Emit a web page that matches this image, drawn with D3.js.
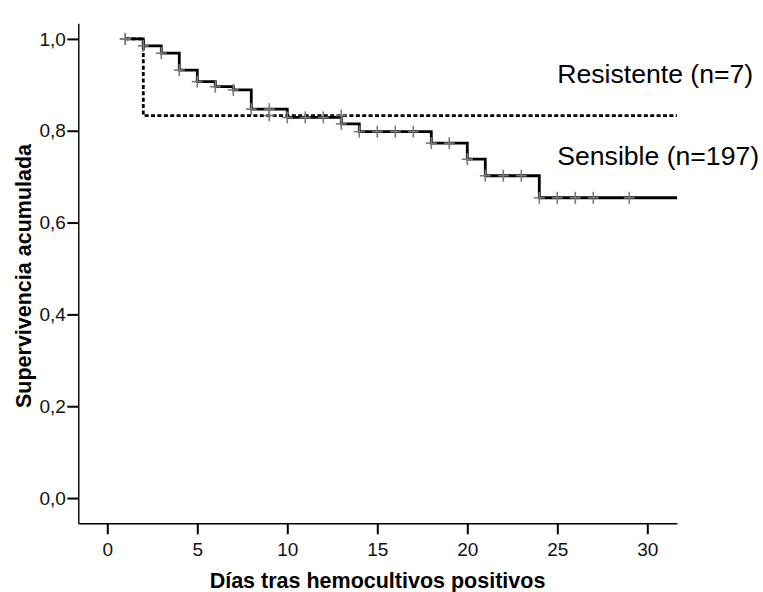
<!DOCTYPE html>
<html>
<head>
<meta charset="utf-8">
<script src="https://cdn.jsdelivr.net/npm/d3@7"></script>
<style>
  html, body { margin: 0; padding: 0; background: #fff; }
  svg { display: block; font-family: Arial, "Liberation Sans", sans-serif; }
</style>
</head>
<body>
<svg id="chart" width="763" height="592"></svg>
<script>
// Kaplan-Meier survival after positive blood cultures, by susceptibility group
const sensibleTimes = [1, 2, 3, 4, 5, 6, 7, 8, 10, 13, 14, 18, 20, 21, 24];
const sensibleSurv = [1.000, 0.985, 0.969, 0.932, 0.907, 0.896, 0.889, 0.847, 0.829, 0.815, 0.798, 0.773, 0.738, 0.702, 0.654];
const sensibleCensored = [1, 2, 3, 4, 5, 6, 7, 8, 9, 10, 11, 12, 13, 14, 15, 16, 17, 18, 19, 20, 21, 22, 23, 24, 25, 26, 27, 29];

const resistenteTimes = [1, 2];
const resistenteSurv = [1.000, 0.833];
const resistenteCensored = [1, 9, 13];

const xTicks = [0, 5, 10, 15, 20, 25, 30];
const yTicks = [0, 0.2, 0.4, 0.6, 0.8, 1.0];

const groupLabels = ["Resistente (n=7)", "Sensible (n=197)"];
const xTitle = "Días tras hemocultivos positivos";
const yTitle = "Supervivencia acumulada";

const svg = d3.select("#chart");

const x = d3.scaleLinear().domain([-1.61, 31.65]).range([78.3, 677]);
const y = d3.scaleLinear().domain([-0.055, 1.034]).range([523.3, 23.3]);
const fmt = v => d3.format(".1f")(v).replace(".", ",");

// axes
const yAxis = svg.append("g")
  .attr("transform", `translate(${x.range()[0]},0)`)
  .call(d3.axisLeft(y).tickValues(yTicks).tickFormat(fmt).tickSize(11).tickPadding(1.5).tickSizeOuter(0));
const xAxis = svg.append("g")
  .attr("transform", `translate(0,${y.range()[0]})`)
  .call(d3.axisBottom(x).tickValues(xTicks).tickFormat(d3.format("d")).tickSize(11).tickPadding(8).tickSizeOuter(0));

[yAxis, xAxis].forEach(g => {
  g.select(".domain").attr("stroke", "#000").attr("stroke-width", 1.4);
  g.selectAll(".tick line").attr("stroke", "#000").attr("stroke-width", 2);
  g.selectAll(".tick text").attr("fill", "#111").attr("font-size", 19)
    .attr("font-family", "Arial, 'Liberation Sans', sans-serif");
});

// step curves
function stepPoints(times, surv) {
  const pts = times.map((t, i) => [t, surv[i]]);
  pts.push([x.domain()[1], surv[surv.length - 1]]);
  return pts;
}
function survAt(times, surv, t) {
  let s = surv[0];
  times.forEach((tt, i) => { if (tt <= t) s = surv[i]; });
  return s;
}
const line = d3.line().x(d => x(d[0])).y(d => y(d[1])).curve(d3.curveStepAfter);

svg.append("path")
  .attr("d", line(stepPoints(sensibleTimes, sensibleSurv)))
  .attr("fill", "none").attr("stroke", "#000").attr("stroke-width", 2.8);

svg.append("path")
  .attr("d", line(stepPoints(resistenteTimes, resistenteSurv)))
  .attr("fill", "none").attr("stroke", "#000").attr("stroke-width", 2.8)
  .attr("stroke-dasharray", "4,2.4");

// censoring marks
function censorMarks(times, surv, censored) {
  const g = svg.append("g").attr("stroke", "#7a7a7a").attr("stroke-width", 1.6);
  censored.forEach(t => {
    const cx = x(t), cy = y(survAt(times, surv, t));
    g.append("line").attr("x1", cx - 5.5).attr("x2", cx + 5.5).attr("y1", cy).attr("y2", cy);
    g.append("line").attr("x1", cx).attr("x2", cx).attr("y1", cy - 6).attr("y2", cy + 6);
  });
}
censorMarks(resistenteTimes, resistenteSurv, resistenteCensored);
censorMarks(sensibleTimes, sensibleSurv, sensibleCensored);

// group labels
svg.append("text").attr("x", x(25)).attr("y", y(0.903))
  .attr("font-size", 26.6).attr("fill", "#000").text(groupLabels[0]);
svg.append("text").attr("x", x(25)).attr("y", y(0.7255))
  .attr("font-size", 26.6).attr("fill", "#000").text(groupLabels[1]);

// axis titles
svg.append("text").attr("x", 377.5).attr("y", 588)
  .attr("text-anchor", "middle").attr("font-size", 21.5).attr("font-weight", "bold")
  .text(xTitle);
svg.append("text").attr("transform", "translate(31,276) rotate(-90)")
  .attr("text-anchor", "middle").attr("font-size", 21.5).attr("font-weight", "bold")
  .text(yTitle);
</script>
</body>
</html>
